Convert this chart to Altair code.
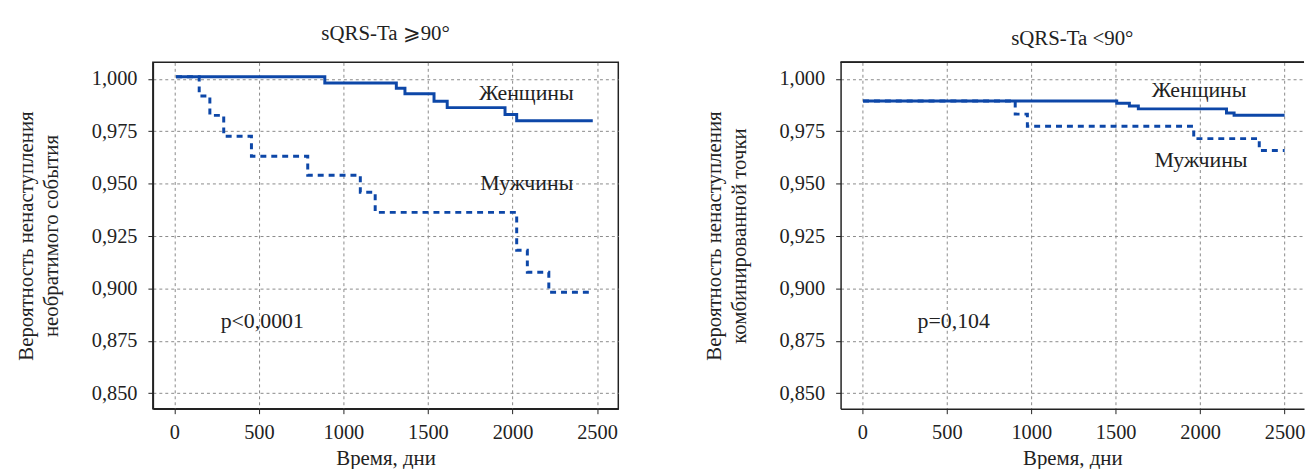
import altair as alt
import pandas as pd

# ---- data ----
left_women_days = [10, 890, 1313, 1364, 1536, 1614, 1956, 2025, 2475]
left_women_surv = [1.001, 0.998, 0.9956, 0.9929, 0.9893, 0.9863, 0.983, 0.980, 0.980]
left_men_days = [10, 147, 210, 292, 456, 789, 1100, 1188, 2025, 2088, 2215, 2479]
left_men_surv = [1.001, 0.9918, 0.9826, 0.9726, 0.9631, 0.954, 0.9459, 0.9363, 0.9182, 0.9077, 0.8982, 0.8982]

right_women_days = [4, 1506, 1581, 1634, 2156, 2201, 2500]
right_women_surv = [0.9895, 0.9884, 0.9871, 0.9857, 0.9837, 0.9827, 0.9827]
right_men_days = [4, 905, 977, 1962, 2350, 2500]
right_men_surv = [0.9895, 0.9832, 0.9774, 0.9715, 0.9658, 0.9658]

groups = ["Женщины", "Мужчины"]
left_labels_text = ["Женщины", "Мужчины", "p<0,0001"]
left_labels_x = [2082, 2085, 520]
left_labels_y = [0.9901, 0.9469, 0.8812]
right_labels_text = ["Женщины", "Мужчины", "p=0,104"]
right_labels_x = [1994, 2005, 541]
right_labels_y = [0.9916, 0.9581, 0.8811]

x_ticks = [0, 500, 1000, 1500, 2000, 2500]
y_ticks = [0.850, 0.875, 0.900, 0.925, 0.950, 0.975, 1.000]

left_title = "sQRS-Ta ⩾90°"
right_title = "sQRS-Ta <90°"
x_title = "Время, дни"
left_y_title = ["Вероятность ненаступления", "необратимого события"]
right_y_title = ["Вероятность ненаступления", "комбинированной точки"]

FONT = "Liberation Serif"
LINE = "#0d47a8"
INK = "#222222"
Y_DOMAIN = [0.8426, 1.0079]


def curve_df(w_days, w_surv, m_days, m_surv):
    rows = []
    for d, s in zip(w_days, w_surv):
        rows.append({"day": d, "surv": s, "group": groups[0]})
    for d, s in zip(m_days, m_surv):
        rows.append({"day": d, "surv": s, "group": groups[1]})
    return pd.DataFrame(rows)


def panel(df, lab_text, lab_x, lab_y, x_domain, width, title, y_title, title_dy, y_title_pad, frame):
    x_enc = alt.X(
        "day:Q",
        scale=alt.Scale(domain=x_domain, nice=False, zero=False),
        axis=alt.Axis(
            values=x_ticks,
            title=x_title,
            labelExpr="format(datum.value, 'd')",
            labelPadding=9,
            titlePadding=5,
        ),
    )
    y_enc = alt.Y(
        "surv:Q",
        scale=alt.Scale(domain=Y_DOMAIN, nice=False, zero=False),
        axis=alt.Axis(
            values=y_ticks,
            title=y_title,
            labelExpr="replace(format(datum.value, '.3f'), '.', ',')",
            labelPadding=11,
            titlePadding=y_title_pad,
            titleLineHeight=25,
        ),
    )
    lines = alt.Chart(df).mark_line(interpolate="step-after", strokeWidth=3, color=LINE).encode(
        x=x_enc,
        y=y_enc,
        strokeDash=alt.StrokeDash(
            "group:N",
            scale=alt.Scale(domain=groups, range=[[1, 0], [6, 5]]),
            legend=None,
        ),
        detail="group:N",
    )
    lab_df = pd.DataFrame({"day": lab_x, "surv": lab_y, "txt": lab_text})
    labels = alt.Chart(lab_df).mark_text(
        font=FONT, fontSize=22, color=INK, align="center", baseline="alphabetic"
    ).encode(x="day:Q", y="surv:Q", text="txt:N")
    layers = [lines, labels]
    if not frame:
        top = alt.Chart(lab_df).mark_rule(color=INK, strokeWidth=1.5).encode(
            x=alt.value(0), x2=alt.value(width), y=alt.value(0)
        )
        layers.append(top)
    ch = alt.layer(*layers).properties(
        width=width,
        height=349,
        title=alt.TitleParams(
            title, font=FONT, fontSize=21, fontWeight="normal", color=INK,
            anchor="middle", baseline="alphabetic", offset=0, dy=title_dy, frame="group",
        ),
    )
    if frame:
        ch = ch.properties(view=alt.ViewBackground(stroke=INK, strokeWidth=1.5))
    else:
        ch = ch.properties(view=alt.ViewBackground(stroke="transparent"))
    return ch


left = panel(
    curve_df(left_women_days, left_women_surv, left_men_days, left_men_surv),
    left_labels_text, left_labels_x, left_labels_y,
    [-127, 2626], 469, left_title, left_y_title, -2, 30, True,
)
right = panel(
    curve_df(right_women_days, right_women_surv, right_men_days, right_men_surv),
    right_labels_text, right_labels_x, right_labels_y,
    [-129, 2615], 467, right_title, right_y_title, 4, 30, False,
)

chart = alt.hconcat(left, right, spacing=224, bounds="flush").properties(
    padding={"left": 7, "top": 12, "right": 0, "bottom": 0}
).configure_axis(
    labelFont=FONT, labelFontSize=20.5, labelColor=INK,
    titleFont=FONT, titleFontSize=21, titleColor=INK, titleFontWeight="normal",
    domain=True, domainColor=INK, domainWidth=1.5,
    ticks=True, tickColor=INK, tickSize=5, tickWidth=1,
    grid=True, gridColor="#8a8a8a", gridDash=[3, 3], gridWidth=1,
).configure_view(stroke=INK, strokeWidth=1.5)

chart.save("out.html", embed_options={"renderer": "svg", "actions": False})
